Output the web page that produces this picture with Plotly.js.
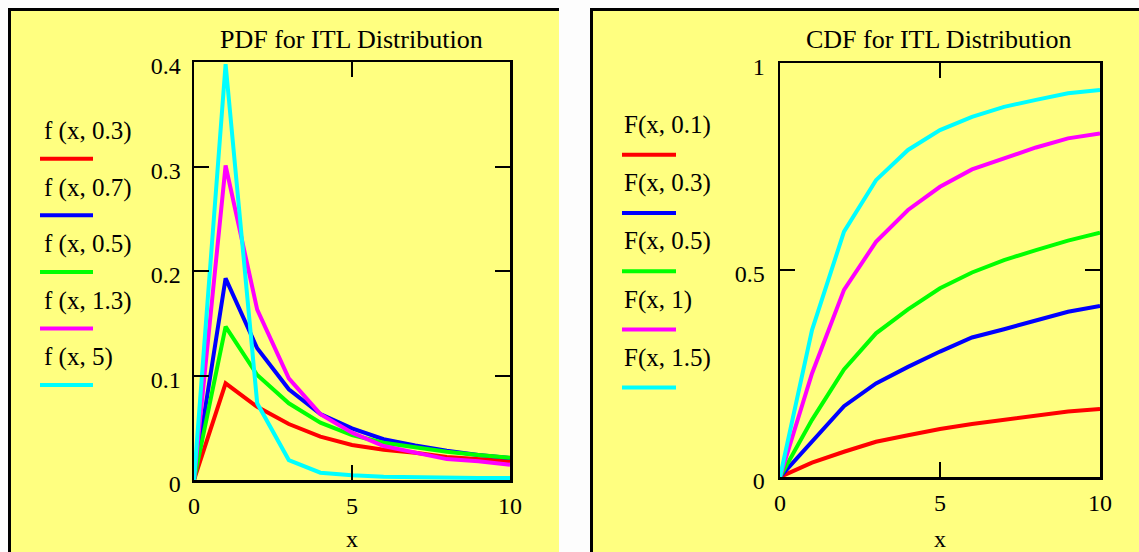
<!DOCTYPE html>
<html>
<head>
<meta charset="utf-8">
<script src="https://cdn.plot.ly/plotly-3.0.1.min.js"></script>
<style>html,body{margin:0;padding:0;background:#fdfdfd;}</style>
</head>
<body>
<div id="chart" style="width:1139px;height:552px;"></div>
<script>
// ---- data ----
const xValues = [0, 1, 2, 3, 4, 5, 6, 7, 8, 9, 10];

const pdfNames = ["f (x, 0.3)", "f (x, 0.7)", "f (x, 0.5)", "f (x, 1.3)", "f (x, 5)"];
const pdf_03 = [0, 0.0925, 0.070, 0.0536, 0.0415, 0.0335, 0.029, 0.026, 0.022, 0.020, 0.018];
const pdf_07 = [0, 0.193, 0.126, 0.0868, 0.0632, 0.0494, 0.039, 0.033, 0.028, 0.024, 0.021];
const pdf_05 = [0, 0.1467, 0.1005, 0.0734, 0.0549, 0.043, 0.0357, 0.031, 0.027, 0.024, 0.0214];
const pdf_13 = [0, 0.301, 0.163, 0.0973, 0.063, 0.0453, 0.0325, 0.026, 0.020, 0.018, 0.0145];
const pdf_5  = [0, 0.398, 0.0734, 0.0191, 0.007, 0.0045, 0.003, 0.0025, 0.002, 0.002, 0.002];

const cdfNames = ["F(x, 0.1)", "F(x, 0.3)", "F(x, 0.5)", "F(x, 1)", "F(x, 1.5)"];
const cdf_01 = [0, 0.0346, 0.061, 0.085, 0.101, 0.116, 0.128, 0.138, 0.147, 0.158, 0.164];
const cdf_03 = [0, 0.085, 0.171, 0.226, 0.266, 0.303, 0.337, 0.357, 0.378, 0.399, 0.413];
const cdf_05 = [0, 0.138, 0.260, 0.347, 0.405, 0.456, 0.494, 0.524, 0.548, 0.571, 0.590];
const cdf_1  = [0, 0.250, 0.452, 0.568, 0.645, 0.701, 0.743, 0.770, 0.796, 0.818, 0.830];
const cdf_15 = [0, 0.355, 0.5926, 0.717, 0.790, 0.838, 0.870, 0.894, 0.911, 0.927, 0.935];

const seriesColors = ["#ff0000", "#0000ff", "#00ff00", "#ff00ff", "#00ffff"];

const pdfTitle = "PDF for ITL Distribution";
const cdfTitle = "CDF for ITL Distribution";
const xTitle = "x";
const pdfTickVals = [0, 0.1, 0.2, 0.3, 0.4];
const pdfTickText = ["0", "0.1", "0.2", "0.3", "0.4"];
const cdfTickVals = [0, 0.5, 1];
const cdfTickText = ["0", "0.5", "1"];
const xTickVals = [0, 5, 10];
const xTickText = ["0", "5", "10"];

// ---- layout helpers ----
const W = 1139, H = 552;
const px = v => v / W;
const py = v => 1 - v / H;
const FONT = "Liberation Serif, Times New Roman, serif";
const YELLOW = "#ffff80";

const pdfSeries = [pdf_03, pdf_07, pdf_05, pdf_13, pdf_5];
const cdfSeries = [cdf_01, cdf_03, cdf_05, cdf_1, cdf_15];

const traces = [];
pdfSeries.forEach((ys, i) => traces.push({
  x: xValues, y: ys, type: "scatter", mode: "lines", name: pdfNames[i],
  line: {color: seriesColors[i], width: 4}, xaxis: "x", yaxis: "y", showlegend: false
}));
cdfSeries.forEach((ys, i) => traces.push({
  x: xValues, y: ys, type: "scatter", mode: "lines", name: cdfNames[i],
  line: {color: seriesColors[i], width: 4}, xaxis: "x2", yaxis: "y2", showlegend: false
}));

function axisBase(extra) {
  return Object.assign({
    showline: true, linecolor: "#000", linewidth: 2.5, mirror: "allticks",
    ticks: "inside", ticklen: 15, tickwidth: 2, tickcolor: "#000",
    showgrid: false, zeroline: false, fixedrange: true,
    tickfont: {family: FONT, size: 24, color: "#000"}
  }, extra);
}

const shapes = [];
const annotations = [];

// panels (yellow background + black left/top frame)
[[8, 559], [590, 1139]].forEach(([x0, x1]) => {
  shapes.push({type: "rect", xref: "paper", yref: "paper", layer: "below",
    x0: px(x0), x1: px(x1), y0: py(H), y1: py(8), fillcolor: YELLOW, line: {width: 0}});
  shapes.push({type: "line", xref: "paper", yref: "paper", layer: "below",
    x0: px(x0 + 1.5), x1: px(x0 + 1.5), y0: py(H), y1: py(8), line: {color: "#000", width: 3}});
  shapes.push({type: "line", xref: "paper", yref: "paper", layer: "below",
    x0: px(x0), x1: px(x1), y0: py(9.5), y1: py(9.5), line: {color: "#000", width: 3}});
});

// titles
annotations.push({text: pdfTitle, xref: "paper", yref: "paper", x: px(351), y: py(40),
  xanchor: "center", yanchor: "middle", showarrow: false, font: {family: FONT, size: 26, color: "#000"}});
annotations.push({text: cdfTitle, xref: "paper", yref: "paper", x: px(939), y: py(40),
  xanchor: "center", yanchor: "middle", showarrow: false, font: {family: FONT, size: 26, color: "#000"}});

// custom legends: text with a colored line sample underneath
pdfNames.forEach((name, i) => {
  const ty = 131 + i * 56.6, ly = 158.7 + i * 56.6;
  annotations.push({text: name, xref: "paper", yref: "paper", x: px(42), y: py(ty),
    xanchor: "left", yanchor: "middle", showarrow: false, font: {family: FONT, size: 25, color: "#000"}});
  shapes.push({type: "line", xref: "paper", yref: "paper", x0: px(40), x1: px(93),
    y0: py(ly), y1: py(ly), line: {color: seriesColors[i], width: 4}});
});
cdfNames.forEach((name, i) => {
  const ty = 125 + i * 58.2, ly = 154.8 + i * 58.2;
  annotations.push({text: name, xref: "paper", yref: "paper", x: px(622), y: py(ty),
    xanchor: "left", yanchor: "middle", showarrow: false, font: {family: FONT, size: 25, color: "#000"}});
  shapes.push({type: "line", xref: "paper", yref: "paper", x0: px(622), x1: px(676),
    y0: py(ly), y1: py(ly), line: {color: seriesColors[i], width: 4}});
});

const layout = {
  width: W, height: H, autosize: false,
  margin: {l: 0, r: 0, t: 0, b: 0, pad: 0},
  paper_bgcolor: "#fdfdfd", plot_bgcolor: "rgba(0,0,0,0)",
  showlegend: false,
  xaxis: axisBase({domain: [px(194), px(510)], range: [0, 10], anchor: "y",
    tickvals: xTickVals, ticktext: xTickText, ticklabelstandoff: 3,
    title: {text: xTitle, font: {family: FONT, size: 24, color: "#000"}, standoff: 17}}),
  yaxis: axisBase({domain: [py(480), py(62)], range: [0, 0.4], anchor: "x",
    tickvals: pdfTickVals, ticktext: pdfTickText, ticklabelstandoff: 6, ticklabelshift: 4}),
  xaxis2: axisBase({domain: [px(780), px(1100)], range: [0, 10], anchor: "y2",
    tickvals: xTickVals, ticktext: xTickText, ticklabelstandoff: 3,
    title: {text: xTitle, font: {family: FONT, size: 24, color: "#000"}, standoff: 17}}),
  yaxis2: axisBase({domain: [py(477), py(63)], range: [0, 1], anchor: "x2",
    tickvals: cdfTickVals, ticktext: cdfTickText, ticklabelstandoff: 8, ticklabelshift: 4}),
  shapes: shapes,
  annotations: annotations
};

Plotly.newPlot("chart", traces, layout, {displayModeBar: false, staticPlot: true});
</script>
</body>
</html>
